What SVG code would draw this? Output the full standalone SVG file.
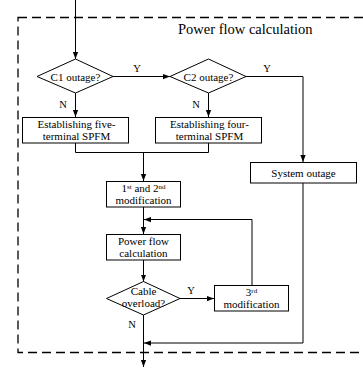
<svg xmlns="http://www.w3.org/2000/svg" width="363" height="370" viewBox="0 0 363 370">
<style>
text{font-family:"Liberation Serif","Times New Roman",serif;fill:#000}
.t{font-size:11px;text-anchor:middle}
.lb{font-size:10.5px;text-anchor:middle}
.sup{font-size:7px}
.box{fill:#fff;stroke:#000;stroke-width:1}
.ln{fill:none;stroke:#000;stroke-width:1}
.frame{fill:none;stroke:#000;stroke-width:1.3;stroke-dasharray:9,5}
</style>
<defs>
<marker id="ah" viewBox="0 0 8 8" refX="8" refY="4" markerWidth="7" markerHeight="7" markerUnits="userSpaceOnUse" orient="auto">
<path d="M0,1 L8,4 L0,7 z" fill="#000"/>
</marker>
</defs>
<rect class="frame" x="18" y="17.5" width="360" height="335"/>
<text x="178" y="34" style="font-size:14.5px">Power flow calculation</text>
<g id="connectors">
<path class="ln" d="M75.5,0 V59" marker-end="url(#ah)"/>
<path class="ln" d="M113,76.5 H170" marker-end="url(#ah)"/>
<path class="ln" d="M246,76.5 H303 V162" marker-end="url(#ah)"/>
<path class="ln" d="M75.5,93 V117" marker-end="url(#ah)"/>
<path class="ln" d="M208.5,93 V117" marker-end="url(#ah)"/>
<path class="ln" d="M75.5,143 V152.5 H208.5 V143"/>
<path class="ln" d="M143.5,152.5 V181" marker-end="url(#ah)"/>
<path class="ln" d="M143.5,207 V234" marker-end="url(#ah)"/>
<path class="ln" d="M252,285.5 V219.5 H144" marker-end="url(#ah)"/>
<path class="ln" d="M143.5,260 V281.5" marker-end="url(#ah)"/>
<path class="ln" d="M180,298.5 H214" marker-end="url(#ah)"/>
<path class="ln" d="M303,183 V343 H144" marker-end="url(#ah)"/>
<path class="ln" d="M143.5,315 V367" marker-end="url(#ah)"/>
<text x="137" y="72" class="lb">Y</text>
<text x="267" y="72" class="lb">Y</text>
<text x="63" y="108" class="lb">N</text>
<text x="196" y="108" class="lb">N</text>
<text x="191" y="294" class="lb">Y</text>
<text x="132" y="328" class="lb">N</text>
</g>
<g id="c1">
<polygon class="box" points="37,76.5 75.5,59 113,76.5 75.5,93"/>
<text x="75.5" y="80.5" class="t">C1 outage?</text>
</g>
<g id="c2">
<polygon class="box" points="170,76.5 208.5,59 246,76.5 208.5,93"/>
<text x="208.5" y="80.5" class="t">C2 outage?</text>
</g>
<g id="five">
<rect class="box" x="22.5" y="117.5" width="106" height="25.5"/>
<text x="76.5" y="127.5" class="t">Establishing five-</text>
<text x="76.5" y="140" class="t">terminal SPFM</text>
</g>
<g id="four">
<rect class="box" x="155.5" y="117.5" width="106" height="25.5"/>
<text x="209.5" y="127.5" class="t">Establishing four-</text>
<text x="209.5" y="140" class="t">terminal SPFM</text>
</g>
<g id="sysout">
<rect class="box" x="250.5" y="162.5" width="106" height="20.5"/>
<text x="303.5" y="176.5" class="t">System outage</text>
</g>
<g id="mod12">
<rect class="box" x="106.5" y="181.5" width="74" height="25.5"/>
<text x="143.5" y="191.5" class="t">1<tspan class="sup" dy="-3">st</tspan><tspan dy="3"> and 2</tspan><tspan class="sup" dy="-3">nd</tspan></text>
<text x="143.5" y="204" class="t">modification</text>
</g>
<g id="pfc">
<rect class="box" x="106.5" y="234.5" width="74" height="25.5"/>
<text x="143.5" y="244.5" class="t">Power flow</text>
<text x="143.5" y="257" class="t">calculation</text>
</g>
<g id="cable">
<polygon class="box" points="106.5,298.5 143.5,281.5 180,298.5 143.5,315"/>
<text x="143.5" y="294.5" class="t">Cable</text>
<text x="143.5" y="307" class="t">overload?</text>
</g>
<g id="mod3">
<rect class="box" x="214.5" y="285.5" width="74" height="25.5"/>
<text x="251.5" y="295.5" class="t">3<tspan class="sup" dy="-3">rd</tspan></text>
<text x="251.5" y="308" class="t">modification</text>
</g>
</svg>
